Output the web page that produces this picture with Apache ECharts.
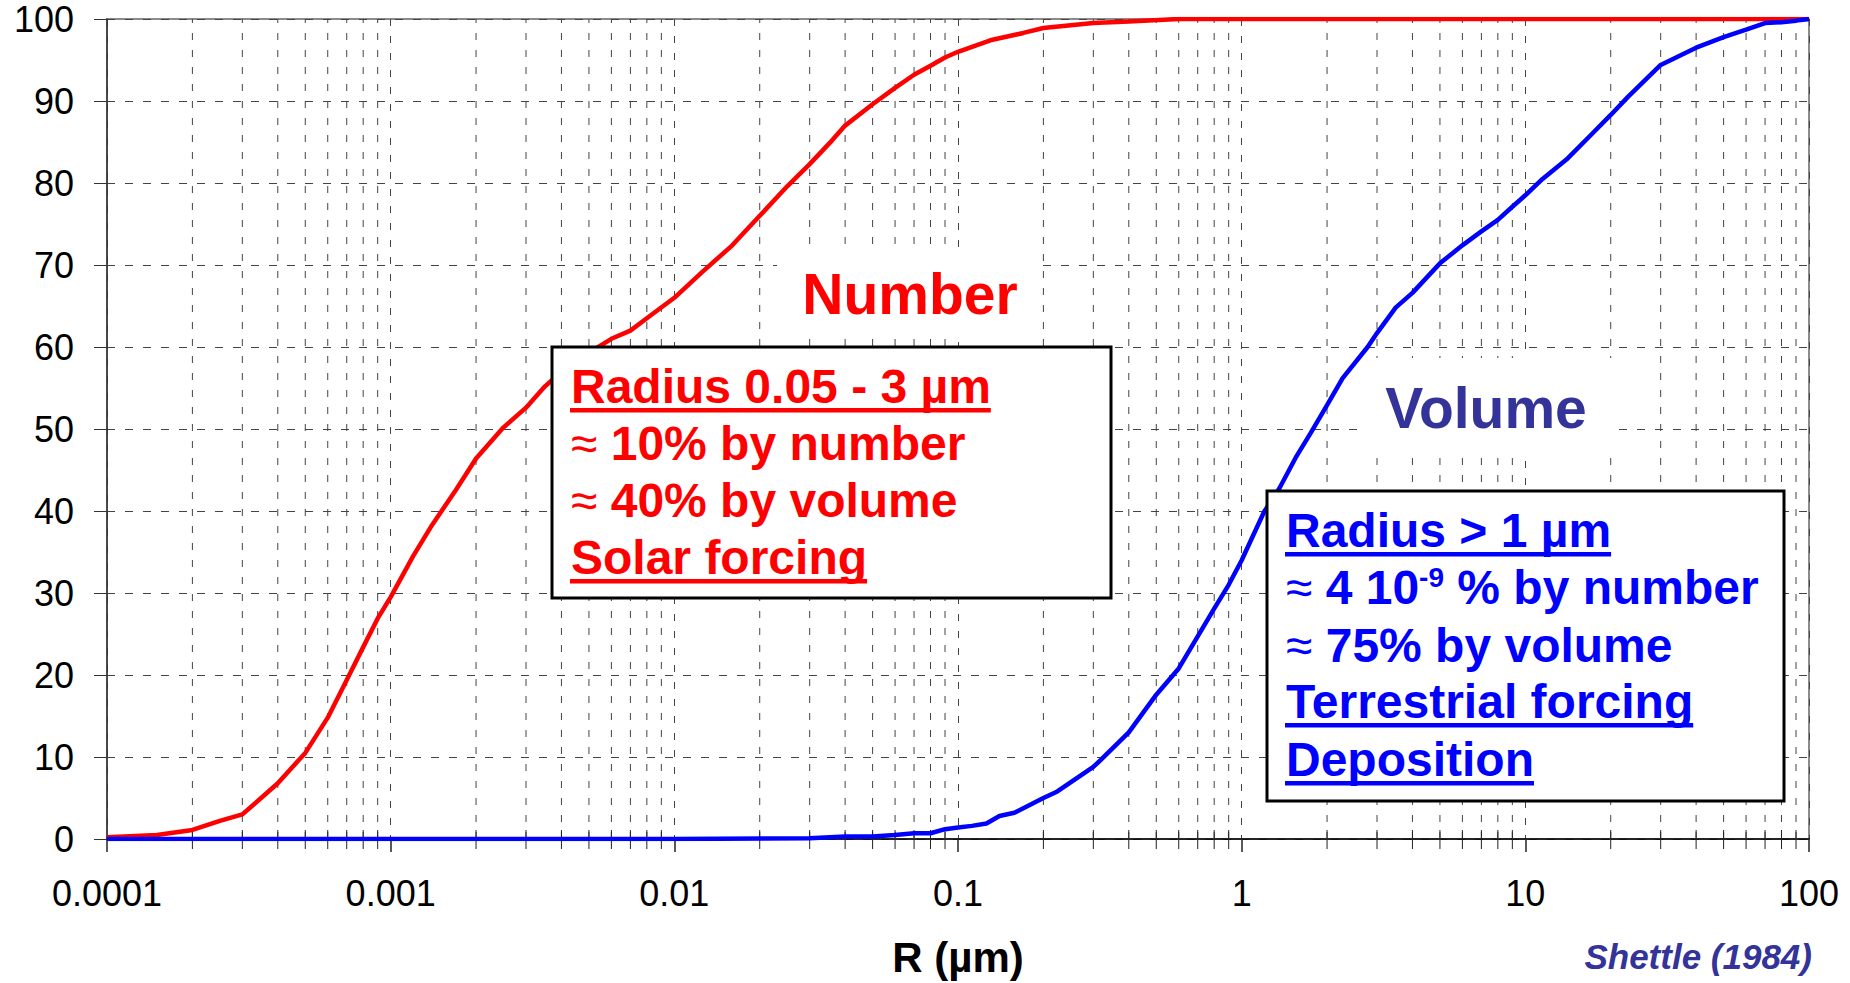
<!DOCTYPE html>
<html>
<head>
<meta charset="utf-8">
<script src="https://cdn.jsdelivr.net/npm/echarts@6/dist/echarts.min.js"></script>
<style>
html,body{margin:0;padding:0;background:#fff;}
#chart{width:1850px;height:983px;}
</style>
</head>
<body>
<div id="chart"></div>
<script>
// ---------------- DATA ----------------
const xTickValues = [0.0001, 0.001, 0.01, 0.1, 1, 10, 100];
const xTickLabels = ['0.0001', '0.001', '0.01', '0.1', '1', '10', '100'];
const minorMultipliers = [2, 3, 4, 5, 6, 7, 8, 9];

// Cumulative number distribution (red)
const numberR = [0.0001, 0.00012, 0.00015, 0.0002, 0.00025, 0.0003, 0.0004, 0.0005, 0.0006, 0.0007,
  0.0008, 0.0009, 0.001, 0.0012, 0.0014, 0.0017, 0.002, 0.0025, 0.003, 0.0035,
  0.004, 0.005, 0.006, 0.007, 0.008, 0.01, 0.0125, 0.016, 0.02, 0.025,
  0.03, 0.036, 0.04, 0.05, 0.06, 0.07, 0.08, 0.09, 0.1, 0.13,
  0.17, 0.2, 0.3, 0.4, 0.6, 1, 10, 100];
const numberPct = [0.2, 0.35, 0.5, 1.1, 2.2, 3.0, 6.8, 10.5, 14.8, 19.4,
  23.4, 26.9, 29.5, 34.5, 38.3, 42.6, 46.4, 50.2, 52.6, 55.2,
  57.0, 59.3, 61.0, 62.0, 63.5, 66.0, 69.1, 72.4, 76.0, 79.6,
  82.3, 85.2, 87.0, 89.6, 91.6, 93.2, 94.3, 95.3, 96.0, 97.4,
  98.3, 98.9, 99.5, 99.7, 100, 100, 100, 100];

// Cumulative volume distribution (blue)
const volumeR = [0.0001, 0.01, 0.03, 0.04, 0.05, 0.06, 0.07, 0.08, 0.09, 0.1,
  0.112, 0.126, 0.14, 0.158, 0.2, 0.224, 0.3, 0.32, 0.4, 0.5,
  0.6, 0.7, 0.8, 0.9, 1, 1.2, 1.36, 1.55, 1.75, 2,
  2.27, 2.78, 3, 3.49, 4, 5, 6, 7, 8, 9,
  10, 11.5, 14.1, 17.3, 20, 23, 30, 40, 50, 60,
  70, 80, 90, 100];
const volumePct = [0, 0, 0.1, 0.3, 0.3, 0.5, 0.7, 0.7, 1.2, 1.4,
  1.6, 1.9, 2.8, 3.2, 5.0, 5.8, 8.8, 9.7, 13.0, 17.6,
  20.8, 24.7, 28.1, 31.0, 34.0, 39.9, 42.8, 46.5, 49.5, 52.9,
  56.2, 60.0, 61.7, 64.8, 66.6, 70.2, 72.4, 74.1, 75.5, 77.1,
  78.5, 80.5, 83.0, 86.1, 88.3, 90.5, 94.4, 96.5, 97.8, 98.7,
  99.5, 99.6, 99.8, 100];

// ---------------- BUILD ----------------
const FONT = "'Liberation Sans', Arial, Helvetica, sans-serif";
const minorTicks = [];
for (let d = 0; d < xTickValues.length - 1; d++) {
  minorMultipliers.forEach(m => minorTicks.push([+(xTickValues[d] * m).toPrecision(6), 0]));
}

const mctx = document.createElement('canvas').getContext('2d');
function tw(text, font) { mctx.font = font; return mctx.measureText(text).width; }

const graphics = [];
function addLine(x, baseline, pieces, color, underline) {
  let cx = x;
  pieces.forEach(p => {
    const fs = p.size;
    const font = (p.style || 'normal') + ' ' + (p.weight || 'bold') + ' ' + fs + 'px ' + FONT;
    graphics.push({
      type: 'text', z: 101, x: cx, y: baseline + (p.dy || 0) - 0.35 * fs,
      style: { text: p.t, font: font, fill: color, textAlign: 'left', textVerticalAlign: 'middle' }
    });
    cx += tw(p.t, font);
  });
  if (underline) {
    graphics.push({ type: 'rect', z: 101, shape: { x: x - 1, y: baseline + 5, width: cx - x + 1, height: 4.5 }, style: { fill: color } });
  }
}

// label boxes (white, no border)
graphics.push({ type: 'rect', z: 100, shape: { x: 777, y: 248, width: 265, height: 90 }, style: { fill: '#fff' } });
graphics.push({ type: 'text', z: 101, x: 910, y: 294, style: { text: 'Number', font: 'bold 57px ' + FONT, fill: '#FF0000', textAlign: 'center', textVerticalAlign: 'middle' } });
graphics.push({ type: 'rect', z: 100, shape: { x: 1364, y: 358, width: 252, height: 94 }, style: { fill: '#fff' } });
graphics.push({ type: 'text', z: 101, x: 1486, y: 408, style: { text: 'Volume', font: 'bold 57px ' + FONT, fill: '#333399', textAlign: 'center', textVerticalAlign: 'middle' } });

// red box
graphics.push({ type: 'rect', z: 100, shape: { x: 552, y: 347, width: 559, height: 251 }, style: { fill: '#fff', stroke: '#000', lineWidth: 3 } });
const RED = '#FF0000', BLUE = '#0000FF';
addLine(571, 403, [{ t: 'Radius 0.05 - 3 \u00b5m', size: 48 }], RED, true);
addLine(571, 460, [{ t: '\u2248', size: 48, weight: 'normal' }, { t: ' 10% by number', size: 48 }], RED, false);
addLine(571, 517, [{ t: '\u2248', size: 48, weight: 'normal' }, { t: ' 40% by volume', size: 48 }], RED, false);
addLine(571, 574, [{ t: 'Solar forcing', size: 48 }], RED, true);

// blue box
graphics.push({ type: 'rect', z: 100, shape: { x: 1267, y: 491, width: 517, height: 310 }, style: { fill: '#fff', stroke: '#000', lineWidth: 3 } });
addLine(1286, 547, [{ t: 'Radius > 1 \u00b5m', size: 48 }], BLUE, true);
addLine(1286, 604, [{ t: '\u2248', size: 48, weight: 'normal' }, { t: ' 4 10', size: 48 }, { t: '-9', size: 28, dy: -17 }, { t: ' % by number', size: 48 }], BLUE, false);
addLine(1286, 662, [{ t: '\u2248', size: 48, weight: 'normal' }, { t: ' 75% by volume', size: 48 }], BLUE, false);
addLine(1286, 718, [{ t: 'Terrestrial forcing', size: 48 }], BLUE, true);
addLine(1286, 776, [{ t: 'Deposition', size: 48 }], BLUE, true);

// source
graphics.push({ type: 'text', z: 101, x: 1812, y: 956, style: { text: 'Shettle (1984)', font: 'italic bold 35px ' + FONT, fill: '#333399', textAlign: 'right', textVerticalAlign: 'middle' } });

function xLabel(v) {
  for (let i = 0; i < xTickValues.length; i++) {
    if (Math.abs(Math.log10(v) - Math.log10(xTickValues[i])) < 1e-6) return xTickLabels[i];
  }
  return '';
}

const chart = echarts.init(document.getElementById('chart'), null, { renderer: 'svg' });
chart.setOption({
  animation: false,
  backgroundColor: '#fff',
  grid: { left: 107, right: 41, top: 19, bottom: 144, show: true, borderColor: '#666', borderWidth: 1.5, backgroundColor: 'transparent' },
  xAxis: {
    type: 'log', logBase: 10, min: 0.0001, max: 100,
    name: 'R (\u00b5m)', nameLocation: 'middle', nameGap: 97,
    nameTextStyle: { fontFamily: FONT, fontWeight: 'bold', fontSize: 42, color: '#000' },
    axisLine: { show: true, onZero: false, lineStyle: { color: '#000', width: 1.5 } },
    axisTick: { show: true, inside: false, length: 13, lineStyle: { color: '#222', width: 1.5 } },
    axisLabel: { formatter: xLabel, fontFamily: FONT, fontSize: 36, color: '#000', margin: 36 },
    splitLine: { show: true, lineStyle: { color: '#444', width: 1, type: [7, 10] } },
    minorTick: { show: false }, minorSplitLine: { show: false }
  },
  yAxis: {
    type: 'value', min: 0, max: 100, interval: 10,
    axisLine: { show: true, lineStyle: { color: '#333', width: 1.5 } },
    axisTick: { show: true, inside: false, length: 13, lineStyle: { color: '#333', width: 1 } },
    axisLabel: { fontFamily: FONT, fontSize: 36, color: '#000', margin: 33 },
    splitLine: { show: true, lineStyle: { color: '#444', width: 1, type: [8, 10] } }
  },
  graphic: graphics,
  series: [
    {
      type: 'custom', name: 'minorGrid', silent: true, z: 1, clip: false,
      data: minorTicks, encode: { x: 0, y: 1 },
      renderItem: function (params, api) {
        const v = api.value(0);
        const p0 = api.coord([v, 0]);
        const p1 = api.coord([v, 100]);
        return {
          type: 'group', children: [
            { type: 'line', shape: { x1: p0[0], y1: p0[1], x2: p1[0], y2: p1[1] }, style: { stroke: '#444', lineWidth: 1, lineDash: [7, 10] } },
            { type: 'line', shape: { x1: p0[0], y1: p0[1] - 9, x2: p0[0], y2: p0[1] + 10 }, style: { stroke: '#222', lineWidth: 1 } }
          ]
        };
      }
    },
    {
      type: 'line', name: 'Number', z: 5, showSymbol: false, symbol: 'none', smooth: false,
      data: numberR.map((r, i) => [r, numberPct[i]]),
      lineStyle: { color: '#FF0000', width: 4.5 }
    },
    {
      type: 'line', name: 'Volume', z: 6, showSymbol: false, symbol: 'none', smooth: false,
      data: volumeR.map((r, i) => [r, volumePct[i]]),
      lineStyle: { color: '#0000FF', width: 4.5 }
    }
  ]
});
</script>
</body>
</html>
